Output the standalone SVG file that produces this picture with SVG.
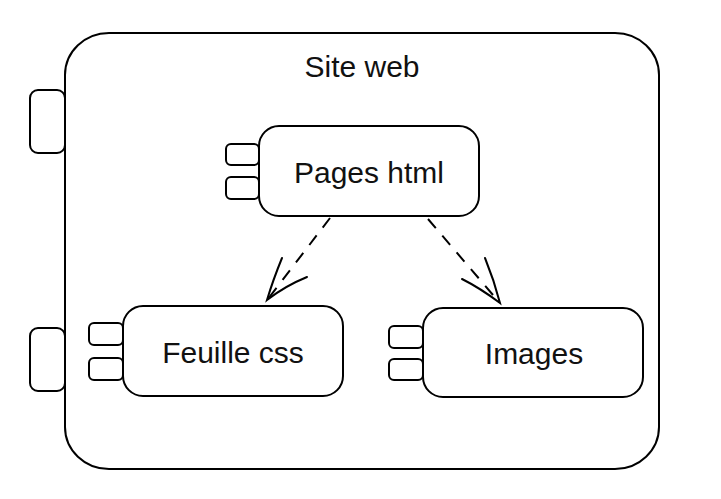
<svg xmlns="http://www.w3.org/2000/svg" width="721" height="499" viewBox="0 0 721 499">
  <style>
    .box { fill: #ffffff; stroke: #000000; stroke-width: 2; }
    .lbl { font-family: "Liberation Sans", Arial, sans-serif; font-size: 30px; fill: #111111; text-anchor: middle; }
    .dash { fill: none; stroke: #000000; stroke-width: 2; stroke-dasharray: 12 10; }
    .head { fill: none; stroke: #000000; stroke-width: 2; stroke-linecap: round; }
  </style>
  <rect x="0" y="0" width="721" height="499" fill="#ffffff"/>
  <g id="site-web">
    <rect class="box" x="65" y="33" width="594" height="436" rx="44" ry="42"/>
    <rect class="box" x="30" y="90" width="35" height="63" rx="8"/>
    <rect class="box" x="30" y="328" width="35" height="63" rx="8"/>
    <text class="lbl" x="362" y="77">Site web</text>
  </g>
  <g id="pages-html">
    <rect class="box" x="259" y="126" width="220" height="90" rx="20"/>
    <rect class="box" x="226" y="144" width="33" height="21" rx="5"/>
    <rect class="box" x="226" y="177" width="33" height="22" rx="5"/>
    <text class="lbl" x="369" y="183">Pages html</text>
  </g>
  <g id="feuille-css">
    <rect class="box" x="123" y="306" width="220" height="90" rx="20"/>
    <rect class="box" x="89" y="323" width="34" height="22" rx="5"/>
    <rect class="box" x="89" y="358" width="34" height="22" rx="5"/>
    <text class="lbl" x="233" y="363">Feuille css</text>
  </g>
  <g id="images">
    <rect class="box" x="423" y="308" width="220" height="89" rx="20"/>
    <rect class="box" x="389" y="326" width="34" height="22" rx="5"/>
    <rect class="box" x="389" y="359" width="34" height="21" rx="5"/>
    <text class="lbl" x="534" y="364">Images</text>
  </g>
  <g id="connectors">
    <path class="dash" d="M330,218 L268,299"/>
    <path class="head" d="M282,258 Q273,280 267,300 Q285,286 307,277"/>
    <path class="dash" d="M428,219 L499,302"/>
    <path class="head" d="M485,258 Q494,280 500,303 Q480,288 462,279"/>
  </g>
</svg>
